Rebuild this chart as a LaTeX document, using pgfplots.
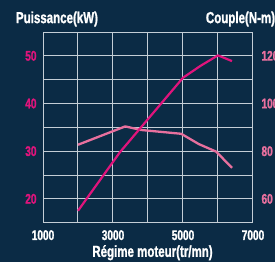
\documentclass[border=0pt]{standalone}
\usepackage{fontspec}
\setmainfont{Liberation Sans Bold}[FakeStretch=0.72,FakeBold=1.2]
\usepackage{pgfplots}
\pgfplotsset{compat=1.18}
\definecolor{bg}{HTML}{0B2B45}
\definecolor{gridc}{HTML}{C4CED6}
\definecolor{pow}{HTML}{E0147C}
\definecolor{torq}{HTML}{E8709E}
\begin{document}
\begin{tikzpicture}
\clip (-43bp,-39.3bp) rectangle (232bp,222.7bp);
\useasboundingbox (-43bp,-39.3bp) rectangle (232bp,222.7bp);
\fill[bg] (-43bp,-39.3bp) rectangle (232bp,222.7bp);
\begin{axis}[
  scale only axis, width=210bp, height=190.7bp,
  at={(0,0)}, anchor=south west,
  xmin=1000, xmax=7000, ymin=50, ymax=130,
  xtick={1000,2000,...,7000},
  xticklabels={1000,,3000,,5000,,7000},
  ytick={50,60,...,130},
  yticklabels={,60,,80,,100,,120,},
  yticklabel pos=right,
  major tick length=0pt,
  grid=major,
  grid style={gridc, line width=1bp},
  axis line style={gridc, line width=1bp},
  /pgf/number format/assume math mode=true,
  xticklabel style={font=\fontsize{14bp}{15bp}\selectfont, text=white, yshift=-4bp},
  yticklabel style={font=\fontsize{14bp}{15bp}\selectfont, text=torq, xshift=5bp},
]
\addplot[torq, line width=2.3bp, line join=round] coordinates {
(2000,82.7) (3350,90.4) (3800,88.9) (4950,87.3) (5450,83.0) (5950,79.8) (6400,73.0)
};
\end{axis}
\begin{axis}[
  scale only axis, width=210bp, height=190.7bp,
  at={(0,0)}, anchor=south west,
  xmin=1000, xmax=7000, ymin=15, ymax=55,
  hide x axis,
  axis y line*=left,
  axis line style={draw=none},
  ytick={20,30,40,50},
  major tick length=0pt,
  /pgf/number format/assume math mode=true,
  yticklabel style={font=\fontsize{14bp}{15bp}\selectfont, text=pow, xshift=-3bp},
]
\addplot[pow, line width=2.2bp, line join=round] coordinates {
(2000,17.5) (3200,29.8) (5000,45.4) (5500,47.9) (6000,50.1) (6400,48.9)
};
\end{axis}
\node[text=white, font=\fontsize{16bp}{17bp}\selectfont] at (14bp,203.7bp) {Puissance(kW)};
\node[text=white, font=\fontsize{16bp}{17bp}\selectfont] at (197.5bp,203.7bp) {Couple(N-m)};
\node[text=white, font=\fontsize{16bp}{17bp}\selectfont] at (109.5bp,-30bp) {Régime moteur(tr/mn)};
\end{tikzpicture}
\end{document}
